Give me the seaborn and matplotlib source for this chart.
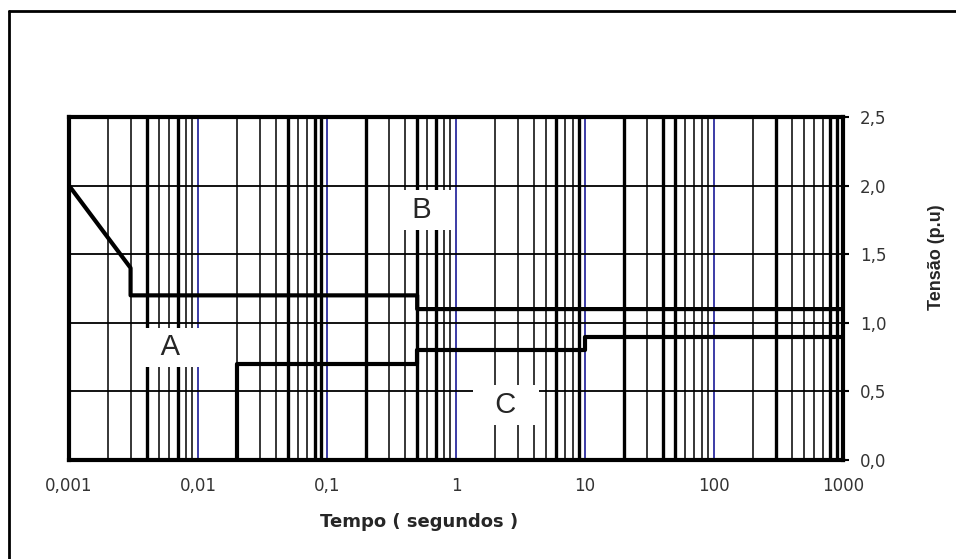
import numpy as np
import pandas as pd
import seaborn as sns
import matplotlib.pyplot as plt
from matplotlib.lines import Line2D

# curve data (tempo in s, tensao in p.u)
upper_t = [0.001, 0.003, 0.003, 0.5, 0.5, 1000]
upper_v = [2.0, 1.4, 1.2, 1.2, 1.1, 1.1]
lower_t = [0.02, 0.02, 0.5, 0.5, 10, 10, 1000]
lower_v = [0.0, 0.7, 0.7, 0.8, 0.8, 0.9, 0.9]

region_labels = ["A", "B", "C"]
region_t = [0.0061, 0.54, 2.44]
region_v = [0.82, 1.82, 0.40]

x_ticks = [0.001, 0.01, 0.1, 1, 10, 100, 1000]
x_tick_labels = ["0,001", "0,01", "0,1", "1", "10", "100", "1000"]
y_ticks = [0.0, 0.5, 1.0, 1.5, 2.0, 2.5]
y_tick_labels = ["0,0", "0,5", "1,0", "1,5", "2,0", "2,5"]


def main():
    sns.set_style("white")
    plt.rcParams['font.family'] = ['Liberation Sans', 'DejaVu Sans']

    fig = plt.figure(figsize=(9.56, 5.59), dpi=100)
    ax = fig.add_axes([0.0722, 0.1771, 0.8096, 0.6136])

    # vertical grid: minor lines black, decade lines blue
    heavy = {4e-3, 7e-3, 5e-2, 8e-2, 9e-2, 2e-1, 5e-1, 7e-1, 6, 9, 20, 40, 50, 300, 800, 900}
    for dec in x_ticks[:-1]:
        for m in range(2, 10):
            x = dec * m
            lw = 2.4 if any(np.isclose(x, h) for h in heavy) else 1.1
            ax.axvline(x, color="black", lw=lw, zorder=1)
        if dec > 0.001:
            ax.axvline(dec, color="#3b3ba6", lw=1.4, zorder=1)
    for y in y_ticks[1:-1]:
        ax.axhline(y, color="black", lw=1.3, zorder=1)

    df = pd.concat([
        pd.DataFrame({"t": upper_t, "v": upper_v, "curve": "sup"}),
        pd.DataFrame({"t": lower_t, "v": lower_v, "curve": "inf"}),
    ])
    sns.lineplot(data=df, x="t", y="v", units="curve", estimator=None, sort=False,
                 color="black", lw=3, ax=ax, zorder=3)

    for lab, t, v in zip(region_labels, region_t, region_v):
        ax.text(t, v, "  " + lab + "  ", fontsize=21, ha="center", va="center", zorder=4,
                bbox=dict(facecolor="white", edgecolor="none", boxstyle="square,pad=0.2"))

    ax.set_xscale("log")
    ax.set_xlim(0.001, 1000)
    ax.set_ylim(0, 2.5)
    ax.set_xticks(x_ticks)
    ax.set_xticklabels(x_tick_labels, family="DejaVu Sans")
    ax.xaxis.set_minor_locator(plt.NullLocator())
    ax.yaxis.tick_right()
    ax.yaxis.set_label_position("right")
    ax.set_yticks(y_ticks)
    ax.set_yticklabels(y_tick_labels, family="DejaVu Sans")
    ax.tick_params(axis="both", which="major", direction="out", length=4, width=1.5,
                   labelsize=12, labelcolor="#333333", color="black")
    ax.tick_params(axis="x", pad=8)
    ax.tick_params(axis="y", pad=8)
    for s in ax.spines.values():
        s.set_visible(True)
        s.set_color("black")
        s.set_linewidth(3)

    ax.set_xlabel("Tempo ( segundos )", fontsize=13, fontweight="bold", family="DejaVu Sans")
    ax.xaxis.set_label_coords(0.452, -0.155)
    ax.set_ylabel("Tensão (p.u)", fontsize=13, fontweight="bold", rotation=90)
    ax.yaxis.set_label_coords(1.11, 0.59)
    ax.grid(False)

    # outer frame of the figure
    fig.add_artist(Line2D([0.009, 0.009], [0, 0.98], transform=fig.transFigure, color="black", lw=2))
    fig.add_artist(Line2D([0.009, 1.0], [0.98, 0.98], transform=fig.transFigure, color="black", lw=2))

    fig.savefig("out.png", dpi=100)


if __name__ == "__main__":
    main()
